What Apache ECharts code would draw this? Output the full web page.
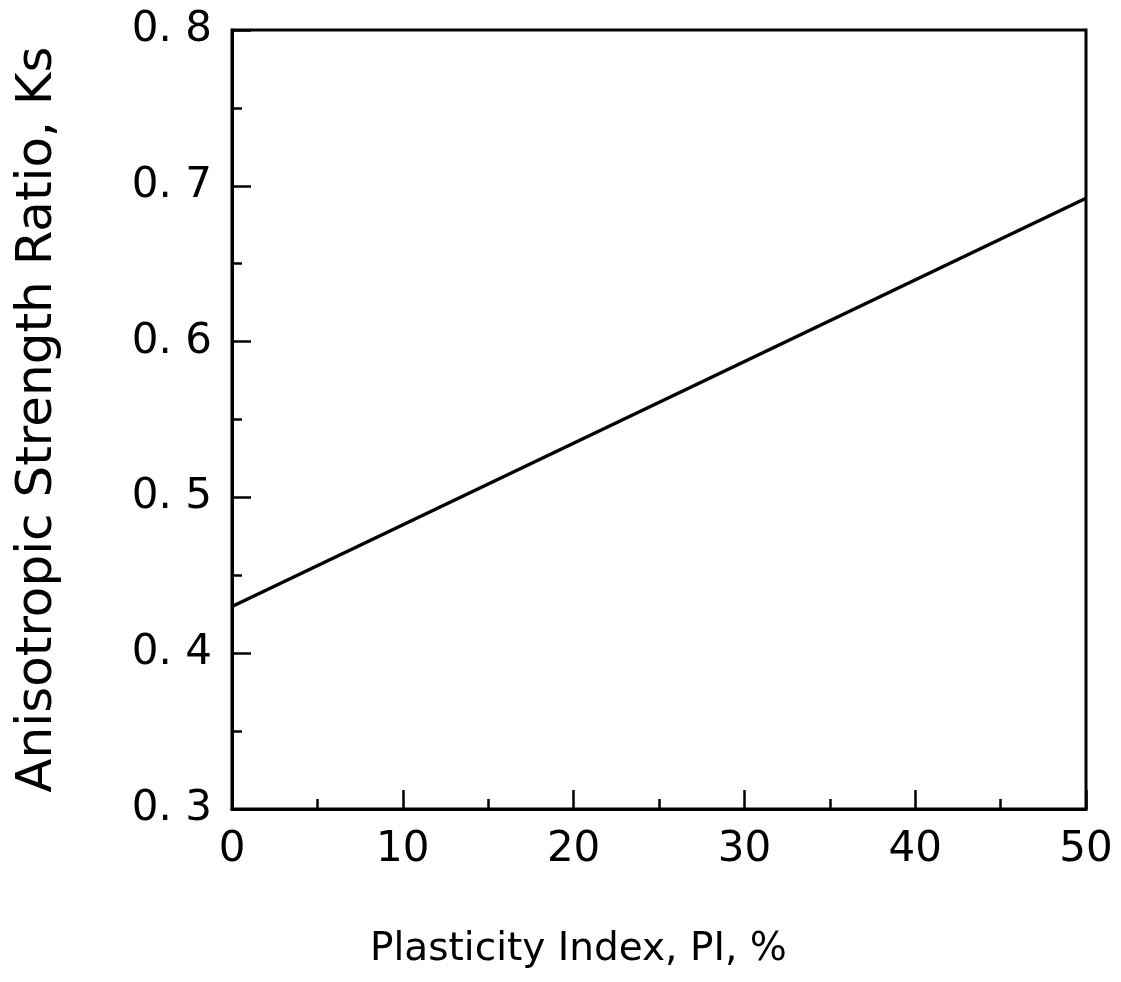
<!DOCTYPE html>
<html>
<head>
<meta charset="utf-8">
<script src="https://cdn.jsdelivr.net/npm/echarts@6/dist/echarts.min.js"></script>
<style>
html,body{margin:0;padding:0;background:#fff;}
#chart{width:1121px;height:982px;}
</style>
</head>
<body>
<div id="chart"></div>
<script>
// Data
const plasticityIndex = [0, 50];
const strengthRatio = [0.43, 0.692];
const xTickValues = [0, 10, 20, 30, 40, 50];
const yTickValues = [0.3, 0.4, 0.5, 0.6, 0.7, 0.8];
const xTitle = 'Plasticity Index, PI, %';
const yTitle = 'Anisotropic Strength Ratio, Ks';

const FONT = '"DejaVu Sans", sans-serif';
const chart = echarts.init(document.getElementById('chart'));
chart.setOption({
  animation: false,
  backgroundColor: '#ffffff',
  grid: {
    left: 232, right: 35, top: 30, bottom: 173,
    show: true, borderColor: '#000', borderWidth: 3, backgroundColor: 'transparent'
  },
  xAxis: {
    type: 'value', min: 0, max: 50, interval: 10,
    axisLine: { show: true, lineStyle: { color: '#000', width: 3 } },
    axisTick: { show: true, inside: true, length: 19, lineStyle: { color: '#000', width: 2.5 } },
    minorTick: { show: true, splitNumber: 2, length: 10, lineStyle: { color: '#000', width: 2.5 } },
    splitLine: { show: false },
    axisLabel: { color: '#000', fontFamily: FONT, fontSize: 42, margin: 20 }
  },
  yAxis: {
    type: 'value', min: 0.3, max: 0.8, interval: 0.1,
    axisLine: { show: true, lineStyle: { color: '#000', width: 3 } },
    axisTick: { show: true, inside: true, length: 19, lineStyle: { color: '#000', width: 2.5 } },
    minorTick: { show: true, splitNumber: 2, length: 10, lineStyle: { color: '#000', width: 2.5 } },
    splitLine: { show: false },
    axisLabel: {
      color: '#000', fontFamily: FONT, fontSize: 42, margin: 20,
      formatter: v => v.toFixed(1).replace('.', '. ')
    },
    name: yTitle,
    nameLocation: 'middle',
    nameGap: 169,
    nameTextStyle: { color: '#000', fontFamily: FONT, fontSize: 50 }
  },
  graphic: [{
    type: 'text',
    left: 370, top: 930,
    style: { text: xTitle, fill: '#000', font: '39px ' + FONT }
  }],
  series: [{
    type: 'line',
    data: plasticityIndex.map((x, i) => [x, strengthRatio[i]]),
    symbol: 'none',
    lineStyle: { color: '#000', width: 3.5 }
  }]
});
</script>
</body>
</html>
